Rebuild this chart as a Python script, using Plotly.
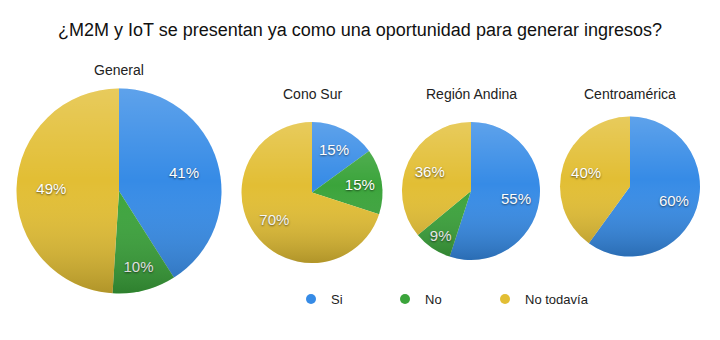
import base64
import plotly.graph_objects as go

# --- data -----------------------------------------------------------------
categories = ["Si", "No", "No todavía"]
regions = ["General", "Cono Sur", "Región Andina", "Centroamérica"]
general = [41, 10, 49]
cono_sur = [15, 15, 70]
region_andina = [55, 9, 36]
centroamerica = [60, 0, 40]
series = [general, cono_sur, region_andina, centroamerica]

title_text = "¿M2M y IoT se presentan ya como una oportunidad para generar ingresos?"

# --- styling ----------------------------------------------------------------
W, H = 720, 340
FONT = "Liberation Sans, Arial, Helvetica, sans-serif"
colors = {"Si": "#368be6", "No": "#3ba43b", "No todavía": "#e2be34"}

# pie placement in pixels: centre x, centre y, radius, title y
geometry = [
    (119, 191, 102.5, 70),
    (312, 192.5, 70.5, 94),
    (471, 191, 69, 94),
    (630, 186.5, 70, 94),
]

# legend marker x positions (pixels)
legend_x = [310, 404, 504]

# soft top-to-bottom shading laid over each pie
shade_svg = (
    "<svg xmlns='http://www.w3.org/2000/svg' viewBox='0 0 100 100'>"
    "<defs><linearGradient id='g' x1='0' y1='0' x2='0' y2='1'>"
    "<stop offset='0' stop-color='white' stop-opacity='0.2'/>"
    "<stop offset='0.45' stop-color='white' stop-opacity='0'/>"
    "<stop offset='1' stop-color='black' stop-opacity='0.22'/>"
    "</linearGradient></defs>"
    "<circle cx='50' cy='50' r='50' fill='url(#g)'/></svg>"
)
shade_uri = "data:image/svg+xml;base64," + base64.b64encode(shade_svg.encode()).decode()

fig = go.Figure()
images = []
annotations = []

for name, vals, (cx, cy, r, ty) in zip(regions, series, geometry):
    labels = [c for c, v in zip(categories, vals) if v > 0]
    values = [v for v in vals if v > 0]
    x0, x1 = (cx - r) / W, (cx + r) / W
    y0, y1 = (H - (cy + r)) / H, (H - (cy - r)) / H
    dom = dict(x=[x0, x1], y=[y0, y1])

    # filled slices
    fig.add_trace(go.Pie(
        labels=labels, values=values, sort=False,
        direction="clockwise", rotation=0, domain=dom,
        marker=dict(colors=[colors[l] for l in labels], line=dict(width=0)),
        textinfo="none",
        hoverinfo="label+value",
        showlegend=False, name=name,
    ))
    # transparent ring carrying the percentage labels further out
    fig.add_trace(go.Pie(
        labels=labels, values=values, sort=False,
        direction="clockwise", rotation=0, domain=dom, hole=0.32,
        marker=dict(colors=["rgba(0,0,0,0)"] * len(labels), line=dict(width=0)),
        texttemplate="%{value}%",
        textposition="inside",
        insidetextorientation="horizontal",
        textfont=dict(family=FONT, size=15, color="white",
                      shadow="0px 1px 2px rgba(0,0,0,0.6)"),
        hoverinfo="skip",
        showlegend=False, name=name,
    ))
    images.append(dict(
        source=shade_uri, xref="paper", yref="paper",
        x=x0, y=y1, sizex=x1 - x0, sizey=y1 - y0,
        xanchor="left", yanchor="top", sizing="stretch", layer="above",
    ))
    annotations.append(dict(
        text=name, xref="paper", yref="paper",
        x=cx / W, y=(H - ty) / H,
        xanchor="center", yanchor="middle", showarrow=False,
        font=dict(family=FONT, size=14, color="#222222"),
    ))

# legend entries drawn as round markers, one legend box per entry
legend_cfg = {}
for i, (c, lx) in enumerate(zip(categories, legend_x)):
    key = "legend" if i == 0 else f"legend{i + 1}"
    fig.add_trace(go.Scatter(
        x=[None], y=[None], mode="markers", name=c,
        marker=dict(symbol="circle", size=10, color=colors[c]),
        showlegend=True, legend=key,
    ))
    legend_cfg[key] = dict(
        orientation="h", x=(lx - 19) / W, y=(H - 299) / H,
        xanchor="left", yanchor="middle",
        font=dict(family=FONT, size=13, color="#222222"),
        bgcolor="rgba(0,0,0,0)",
    )

fig.update_layout(
    width=W, height=H,
    margin=dict(l=0, r=0, t=0, b=0),
    paper_bgcolor="white",
    plot_bgcolor="white",
    title=dict(text=title_text, x=0.5, xanchor="center", y=1 - 30 / H,
               yanchor="middle",
               font=dict(family=FONT, size=18, color="#111111")),
    xaxis=dict(visible=False),
    yaxis=dict(visible=False),
    images=images,
    annotations=annotations,
    **legend_cfg,
)

fig.write_html("out.html")
